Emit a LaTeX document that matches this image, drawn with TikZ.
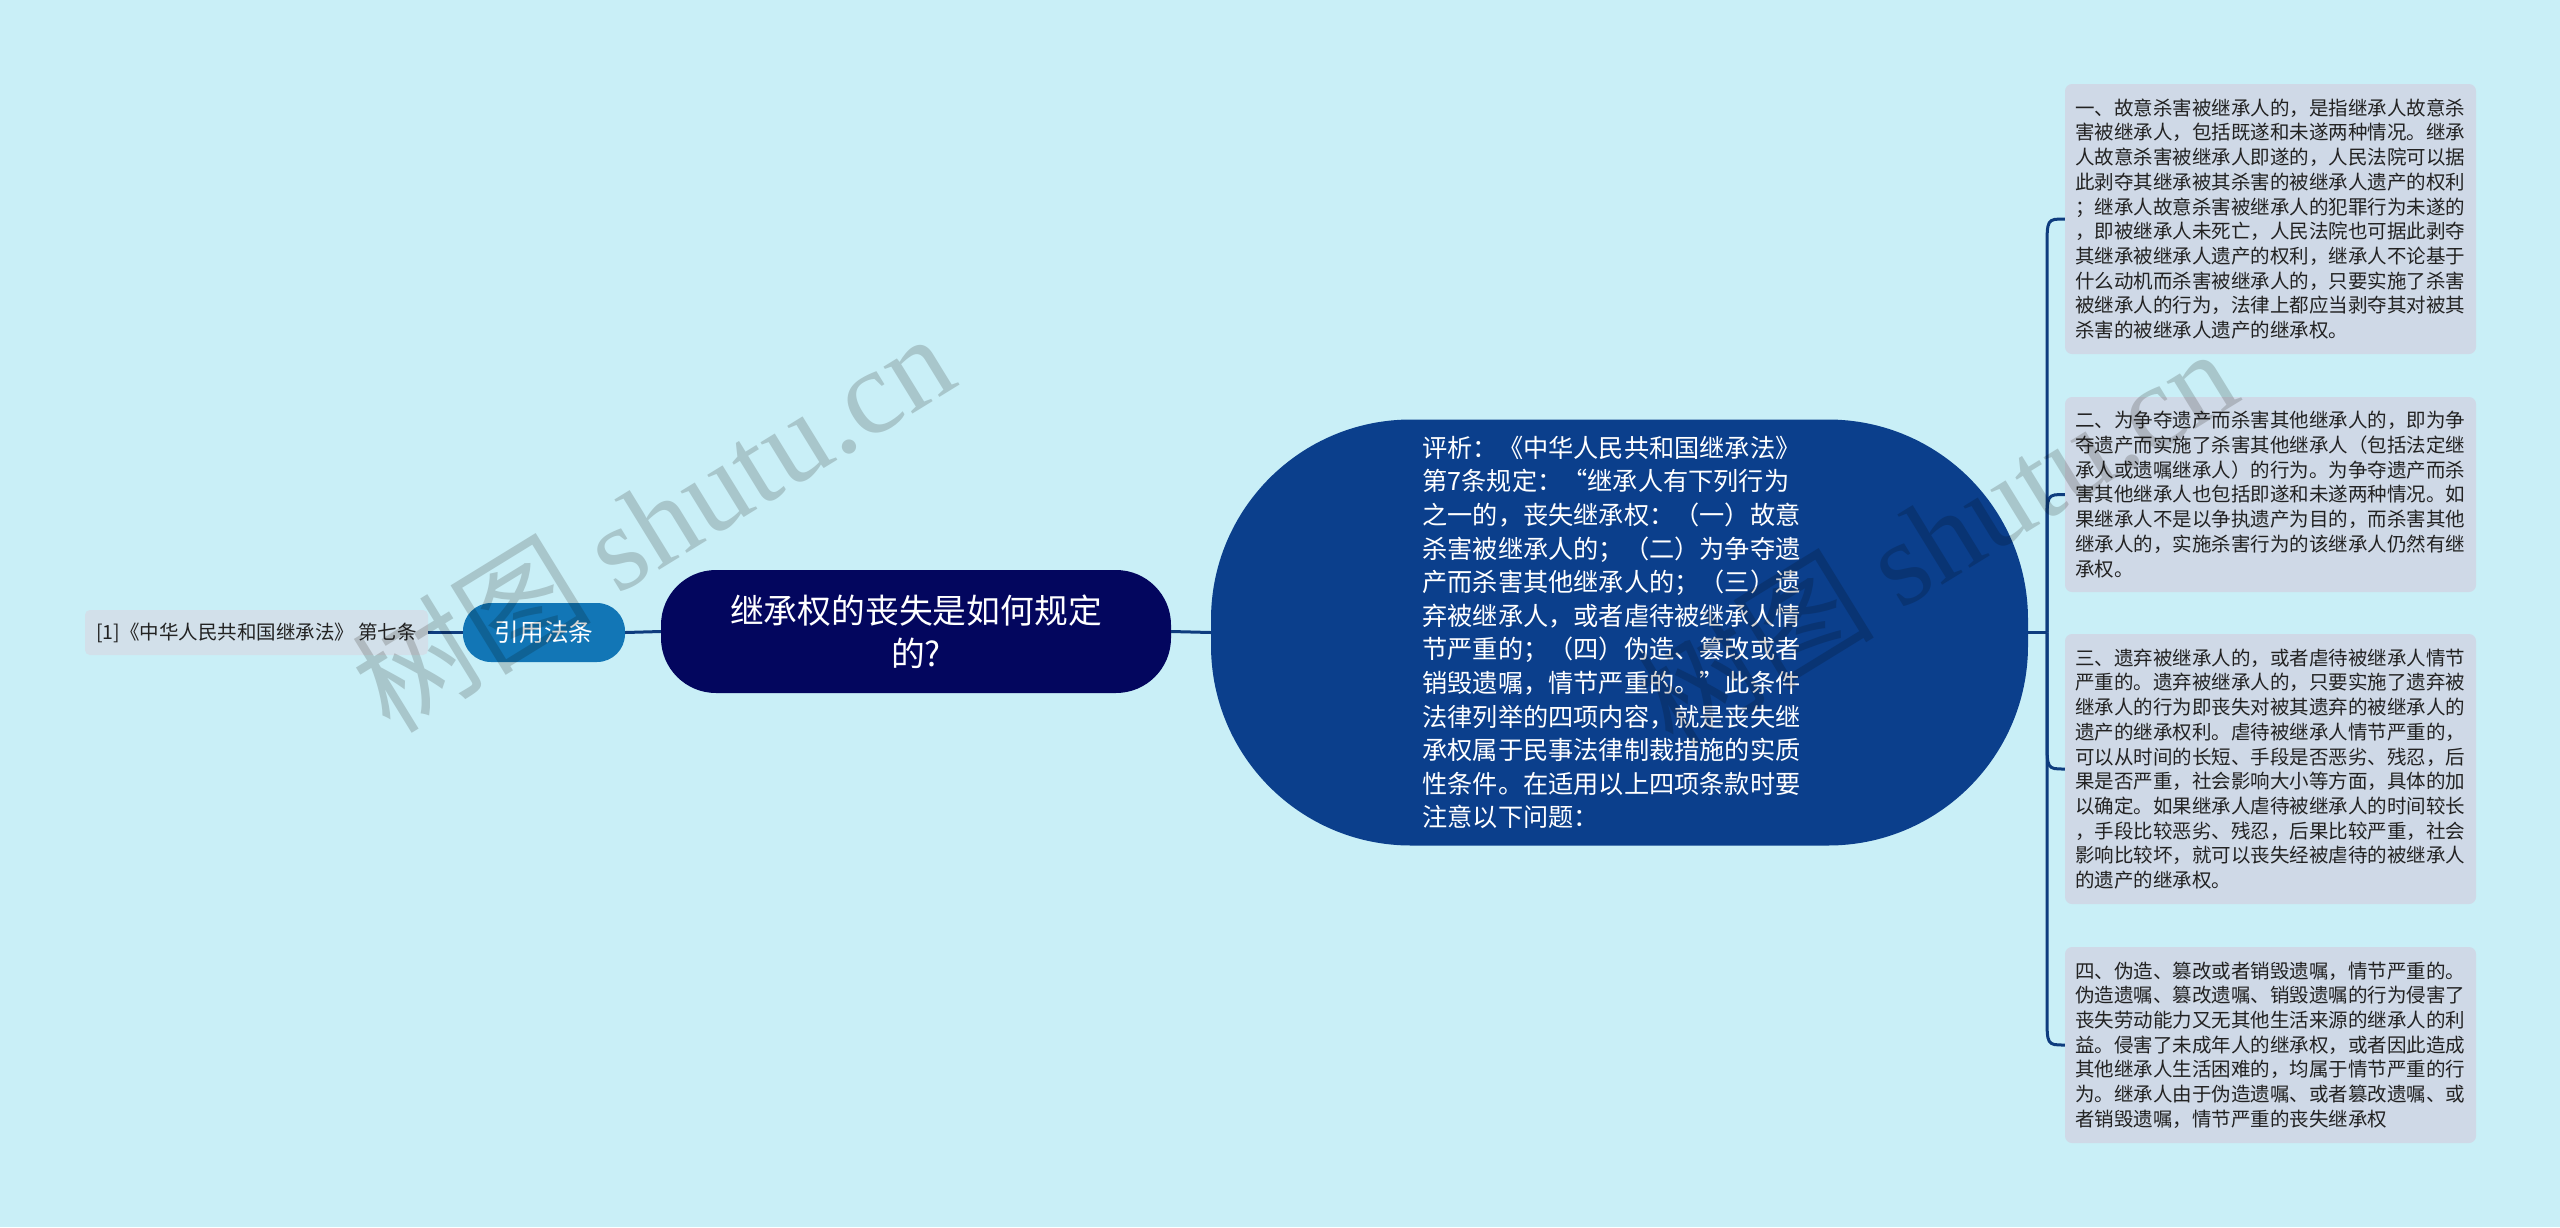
\documentclass[tikz,border=0pt]{standalone}
\usepackage{fontspec}
\setmainfont{Noto Sans CJK SC}
\newfontfamily\wmserif{Liberation Serif}
\usetikzlibrary{calc}
\definecolor{bgc}{HTML}{C9EFF7}
\definecolor{boxc}{HTML}{CFD9E7}
\definecolor{leafc}{HTML}{D2E0EA}
\definecolor{linec}{HTML}{0E3C7E}
\definecolor{centerc}{HTML}{0B3F8C}
\definecolor{rootc}{HTML}{03065E}
\definecolor{citec}{HTML}{1276B6}
\definecolor{txtc}{HTML}{222222}
\definecolor{wmc}{HTML}{D6D4D2}
\tikzset{
  detailbox/.style={fill=boxc, rounded corners=7pt, text width=391pt, align=left,
    inner xsep=10pt, inner ysep=0pt, minimum width=411pt, text=txtc,
    font=\fontsize{19.5pt}{24.7pt}\selectfont},
  conn/.style={draw=linec, line width=3pt},
  watermark/.style={rotate=31.6, text=wmc,
    font=\fontsize{120pt}{120pt}\selectfont, inner sep=0pt}
}
\begin{document}
\begin{tikzpicture}[x=1pt,y=-1pt]
\useasboundingbox (0,0) rectangle (2560,1227);
\fill[bgc] (0,0) rectangle (2560,1227);

% right detail boxes
\node[detailbox, minimum height=270pt] (b1) at (2270.5,219) {一、故意杀害被继承人的，是指继承人故意杀\\害被继承人，包括既遂和未遂两种情况。继承\\人故意杀害被继承人即遂的，人民法院可以据\\此剥夺其继承被其杀害的被继承人遗产的权利\\；继承人故意杀害被继承人的犯罪行为未遂的\\，即被继承人未死亡，人民法院也可据此剥夺\\其继承被继承人遗产的权利，继承人不论基于\\什么动机而杀害被继承人的，只要实施了杀害\\被继承人的行为，法律上都应当剥夺其对被其\\杀害的被继承人遗产的继承权。};
\node[detailbox, minimum height=195pt] (b2) at (2270.5,494.5) {二、为争夺遗产而杀害其他继承人的，即为争\\夺遗产而实施了杀害其他继承人（包括法定继\\承人或遗嘱继承人）的行为。为争夺遗产而杀\\害其他继承人也包括即遂和未遂两种情况。如\\果继承人不是以争执遗产为目的，而杀害其他\\继承人的，实施杀害行为的该继承人仍然有继\\承权。};
\node[detailbox, minimum height=270pt] (b3) at (2270.5,769) {三、遗弃被继承人的，或者虐待被继承人情节\\严重的。遗弃被继承人的，只要实施了遗弃被\\继承人的行为即丧失对被其遗弃的被继承人的\\遗产的继承权利。虐待被继承人情节严重的，\\可以从时间的长短、手段是否恶劣、残忍，后\\果是否严重，社会影响大小等方面，具体的加\\以确定。如果继承人虐待被继承人的时间较长\\，手段比较恶劣、残忍，后果比较严重，社会\\影响比较坏，就可以丧失经被虐待的被继承人\\的遗产的继承权。};
\node[detailbox, minimum height=196pt] (b4) at (2270.5,1045) {四、伪造、篡改或者销毁遗嘱，情节严重的。\\伪造遗嘱、篡改遗嘱、销毁遗嘱的行为侵害了\\丧失劳动能力又无其他生活来源的继承人的利\\益。侵害了未成年人的继承权，或者因此造成\\其他继承人生活困难的，均属于情节严重的行\\为。继承人由于伪造遗嘱、或者篡改遗嘱、或\\者销毁遗嘱，情节严重的丧失继承权};

% central node
\node[fill=centerc, rounded corners=200pt, minimum width=817pt, minimum height=426pt,
  text width=394pt, align=left, text=white, inner sep=0pt,
  font=\fontsize{25.2pt}{33.6pt}\selectfont] (c) at (1619.5,632.5)
  {评析：《中华人民共和国继承法》\\第7条规定：“继承人有下列行为\\之一的，丧失继承权：（一）故意\\杀害被继承人的；（二）为争夺遗\\产而杀害其他继承人的；（三）遗\\弃被继承人，或者虐待被继承人情\\节严重的；（四）伪造、篡改或者\\销毁遗嘱，情节严重的。”此条件\\法律列举的四项内容，就是丧失继\\承权属于民事法律制裁措施的实质\\性条件。在适用以上四项条款时要\\注意以下问题：};

% root
\node[fill=rootc, rounded corners=55pt, minimum width=510pt, minimum height=123pt,
  align=center, text=white, inner sep=0pt,
  font=\fontsize{33.8pt}{43pt}\selectfont] (r) at (916,631.5)
  {继承权的丧失是如何规定\\的?};

% cite node
\node[fill=citec, rounded corners=28pt, minimum width=162pt, minimum height=59pt,
  text=white, inner sep=0pt, font=\fontsize{24.7pt}{28pt}\selectfont] (q) at (544,632.5) {引用法条};

% leaf
\node[fill=leafc, rounded corners=5pt, minimum width=343pt, minimum height=45pt,
  text=txtc, inner sep=0pt, font=\fontsize{19.5pt}{22pt}\selectfont] (l) at (256.5,632.5)
  {[1]《中华人民共和国继承法》 第七条};

% connectors
\draw[conn] (l.east) -- (q.west);
\draw[conn] (q.east) -- (r.west);
\draw[conn] (r.east) -- (c.west);
\coordinate (j) at (2047,632.5);
\draw[conn] (c.east) -- (j);
\foreach \b in {b1,b2,b3,b4}
  \draw[conn] (j) -- ($(j |- \b.west)!30pt!(j)$) .. controls (j |- \b.west) .. (\b.west);

% watermarks
\begin{scope}[blend mode=multiply]
\node[watermark] (wm1) at (652,521) {树图 {\wmserif shutu.cn}};
\node[watermark] (wm2) at (1935,536) {树图 {\wmserif shutu.cn}};
\end{scope}
\end{tikzpicture}
\end{document}
